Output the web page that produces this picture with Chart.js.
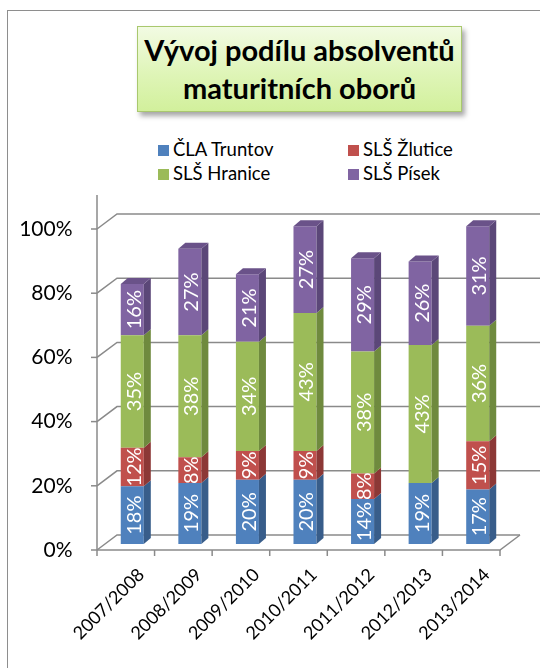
<!DOCTYPE html>
<html>
<head>
<meta charset="utf-8">
<script src="https://cdn.jsdelivr.net/npm/chart.js@4"></script>
<style>
  html, body { margin: 0; padding: 0; background: #fff; }
  body { width: 540px; height: 668px; position: relative; overflow: hidden; font-family: Lato, "Noto Sans", sans-serif; }
  #frame { position: absolute; left: 7px; top: 10px; width: 600px; height: 700px; border-left: 1.5px solid #8e8e8e; border-top: 1.5px solid #8e8e8e; }
  #titlebox { position: absolute; left: 137px; top: 26px; width: 325px; height: 86px; border: 1.5px solid #a9c86e;
    background: linear-gradient(to bottom, #f2fbe3 0%, #dff5b8 55%, #d2f09c 100%);
    box-shadow: 3px 4px 5px rgba(0,0,0,0.35); box-sizing: border-box; display: flex; align-items: center; justify-content: center;
    text-align: center; font-weight: bold; font-size: 29px; line-height: 38px; color: #000; }
  #legend { position: absolute; left: 0; top: 0; font-size: 18.5px; color: #000; }
  .li { position: absolute; white-space: nowrap; line-height: 20px; }
  .sw { display: inline-block; width: 11px; height: 11px; margin-right: 4px; vertical-align: 0px; }
  canvas { position: absolute; left: 0; top: 0; }
</style>
</head>
<body>
<div id="frame"></div>
<div id="titlebox"><div>Vývoj podílu absolventů<br>maturitních oborů</div></div>
<div id="legend"></div>
<canvas id="c" width="540" height="668"></canvas>
<script>
const categories = ["2007/2008","2008/2009","2009/2010","2010/2011","2011/2012","2012/2013","2013/2014"];
const seriesNames = ["ČLA Truntov","SLŠ Žlutice","SLŠ Hranice","SLŠ Písek"];
const clTruntov = [18, 19, 20, 20, 14, 19, 17];
const slsZlutice = [12, 8, 9, 9, 8, null, 15];
const slsHranice = [35, 38, 34, 43, 38, 43, 36];
const slsPisek = [16, 27, 21, 27, 29, 26, 31];
const yTicks = [0, 20, 40, 60, 80, 100];

const frontColors = ["#4f81bd", "#c0504d", "#9bbb59", "#8064a2"];
const sideColors = ["#385d8a", "#8c3836", "#6f8a3e", "#5b4778"];
const topColors = ["#426ea1", "#a34441", "#84a04b", "#6a5289"];

// HTML legend (2 x 2)
const legendPos = [[158,139],[348,139],[158,163],[348,163]];
const lg = document.getElementById('legend');
seriesNames.forEach((name, k) => {
  const d = document.createElement('div');
  d.className = 'li';
  d.style.left = legendPos[k][0] + 'px';
  d.style.top = legendPos[k][1] + 'px';
  d.innerHTML = '<span class="sw" style="background:' + frontColors[k] + '"></span>' + name;
  lg.appendChild(d);
});

const DX = 7, DY = 6;          // bar depth
const FRONT_DY = 6;            // front plane offset (down)
const BACK_DY = -9;            // back wall offset (up)
const WALL_DX = 20;

const gridPlugin = {
  id: 'grid3d',
  beforeDatasetsDraw(chart) {
    const ctx = chart.ctx, ys = chart.scales.y, ca = chart.chartArea;
    const fx = ca.left - 6.5, bx = fx + WALL_DX;
    const n = categories.length;
    const step = (ca.right - ca.left) / n;
    const fxr = fx + n * step;
    ctx.save();
    ctx.strokeStyle = '#8a8a8a';
    ctx.lineWidth = 1.5;
    yTicks.forEach(v => {
      const p = ys.getPixelForValue(v);
      const fy = p + FRONT_DY, by = p + BACK_DY;
      ctx.beginPath();
      ctx.moveTo(fx, fy); ctx.lineTo(bx, by);
      ctx.lineTo(v === 0 ? fxr + WALL_DX : 545, by);
      ctx.stroke();
      ctx.beginPath();
      ctx.moveTo(fx - 6, fy); ctx.lineTo(fx, fy); ctx.stroke();
      if (v === 0) {
        ctx.beginPath();
        ctx.moveTo(fx, fy); ctx.lineTo(fxr, fy); ctx.lineTo(fxr + WALL_DX, by);
        ctx.stroke();
        for (let i = 0; i <= n; i++) {
          const tx = fx + i * step;
          ctx.beginPath(); ctx.moveTo(tx, fy); ctx.lineTo(tx, fy + 6); ctx.stroke();
        }
      }
    });
    const y0 = ys.getPixelForValue(0) + FRONT_DY;
    const yTop = ys.getPixelForValue(100) + FRONT_DY - 34;
    ctx.beginPath(); ctx.moveTo(fx, yTop); ctx.lineTo(fx, y0); ctx.stroke();
    ctx.restore();
  },
  afterDatasetsDraw(chart) {
    const ctx = chart.ctx;
    const nData = categories.length;
    ctx.save();
    for (let i = 0; i < nData; i++) {
      let topDs = -1;
      chart.data.datasets.forEach((ds, di) => { if (ds.data[i] != null && ds.data[i] > 0) topDs = di; });
      chart.data.datasets.forEach((ds, di) => {
        const v = ds.data[i];
        if (v == null || v <= 0) return;
        const el = chart.getDatasetMeta(di).data[i];
        const w = el.width, x0 = el.x - w / 2, x1 = el.x + w / 2;
        const yT = el.y, yB = el.base;
        ctx.fillStyle = sideColors[di];
        ctx.beginPath();
        ctx.moveTo(x1, yT); ctx.lineTo(x1 + DX, yT - DY); ctx.lineTo(x1 + DX, yB - DY); ctx.lineTo(x1, yB);
        ctx.closePath(); ctx.fill();
        if (di === topDs) {
          ctx.fillStyle = topColors[di];
          ctx.beginPath();
          ctx.moveTo(x0, yT); ctx.lineTo(x1, yT); ctx.lineTo(x1 + DX, yT - DY); ctx.lineTo(x0 + DX, yT - DY);
          ctx.closePath(); ctx.fill();
        }
      });
    }
    ctx.fillStyle = '#ffffff';
    ctx.font = '20px Lato, "Noto Sans", sans-serif';
    ctx.textAlign = 'center';
    ctx.textBaseline = 'middle';
    chart.data.datasets.forEach((ds, di) => {
      chart.getDatasetMeta(di).data.forEach((el, i) => {
        const v = ds.data[i];
        if (v == null || v <= 0) return;
        const cx = el.x + 1, cy = (el.y + el.base) / 2;
        ctx.save();
        ctx.translate(cx, cy);
        ctx.rotate(-Math.PI / 2);
        ctx.fillText(v + '%', 0, 1);
        ctx.restore();
      });
    });
    ctx.restore();
  }
};

const seriesData = [clTruntov, slsZlutice, slsHranice, slsPisek];
new Chart(document.getElementById('c'), {
  type: 'bar',
  data: {
    labels: categories,
    datasets: seriesNames.map((name, i) => ({
      label: name,
      data: seriesData[i],
      backgroundColor: frontColors[i],
      borderWidth: 0,
      barPercentage: 0.4,
      categoryPercentage: 1.0
    }))
  },
  options: {
    responsive: false,
    animation: false,
    devicePixelRatio: 1,
    layout: { padding: { top: 223, right: 33.5, left: 0, bottom: 0 } },
    plugins: { legend: { display: false }, title: { display: false }, tooltip: { enabled: false } },
    scales: {
      x: {
        stacked: true,
        grid: { display: false, drawTicks: false },
        border: { display: false },
        ticks: {
          minRotation: 45, maxRotation: 45, padding: 20, labelOffset: 9,
          color: '#000',
          font: { family: 'Lato, "Noto Sans", sans-serif', size: 18 }
        },
        afterFit(s) { s.height = 124; }
      },
      y: {
        stacked: true,
        min: 0, max: 100,
        grid: { display: false, drawTicks: false },
        border: { display: false },
        afterBuildTicks(s) { s.ticks = yTicks.map(v => ({ value: v })); },
        ticks: {
          padding: 31,
          labelOffset: 6,
          color: '#000',
          font: { family: 'Lato, "Noto Sans", sans-serif', size: 21 },
          callback: v => v + '%'
        },
        afterFit(s) { s.width = 103.5; }
      }
    }
  },
  plugins: [gridPlugin]
});
</script>
</body>
</html>
